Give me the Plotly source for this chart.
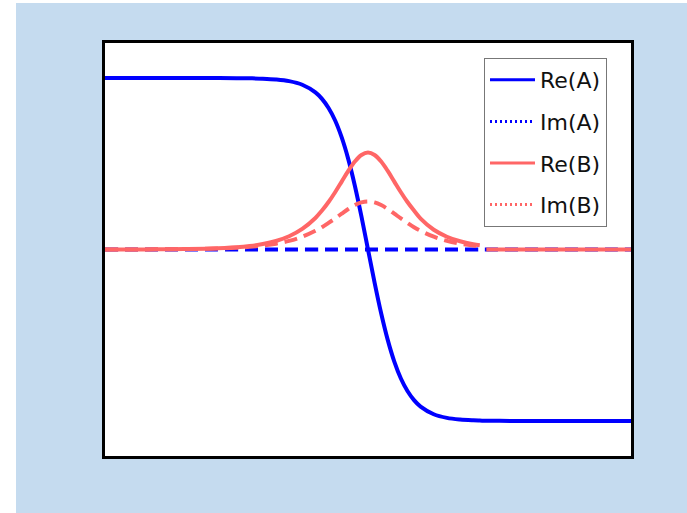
import plotly.graph_objects as go

# sample positions (x) and values
x_vals = [-10, -9, -8, -7, -6, -5, -4.5, -4, -3.5, -3, -2.5, -2, -1.75, -1.5, -1.25, -1, -0.75, -0.5, -0.25,
          0, 0.25, 0.5, 0.75, 1, 1.25, 1.5, 1.75, 2, 2.5, 3, 3.5, 4, 4.25, 4.375, 4.5, 5, 6, 7, 8, 9, 10]

re_a = [1.0, 1.0, 1.0, 1.0, 0.9998, 0.9992, 0.9982, 0.9962, 0.9916, 0.9818, 0.9605, 0.9159, 0.878, 0.8249,
        0.752, 0.6535, 0.527, 0.3718, 0.1929,
        0.0, -0.1929, -0.3718, -0.527, -0.6535, -0.752, -0.8249, -0.878, -0.9159, -0.9605, -0.9818, -0.9916,
        -0.9962, -0.9974, -0.9979, -0.9982, -0.9992, -0.9998, -1.0, -1.0, -1.0, -1.0]

im_a = [0.0] * len(x_vals)

re_b = [0.0002, 0.0004, 0.0009, 0.0022, 0.0053, 0.013, 0.0203, 0.0318, 0.0496, 0.0772, 0.12, 0.184, 0.227,
        0.277, 0.334, 0.396, 0.458, 0.513, 0.551,
        0.565, 0.551, 0.513, 0.458, 0.396, 0.334, 0.277, 0.227, 0.18, 0.115, 0.0745, 0.048, 0.031, 0.0254,
        None, 0.0, 0.0, 0.0, 0.0, 0.0, 0.0, 0.0]

im_b = [0.0002, 0.0004, 0.0009, 0.0021, 0.0046, 0.0103, 0.0153, 0.0228, 0.0339, 0.0504, 0.0744, 0.109, 0.13,
        0.155, 0.181, 0.209, 0.236, 0.259, 0.2745,
        0.28, 0.2745, 0.259, 0.236, 0.209, 0.181, 0.155, 0.13, 0.109, 0.0744, 0.0504, 0.0339, 0.0228, 0.0187,
        None, None, None, None, None, None, None, None]

names = ["Re(A)", "Im(A)", "Re(B)", "Im(B)"]
series = [re_a, im_a, re_b, im_b]
colors = ["#0000ff", "#0000ff", "#ff6666", "#ff6666"]
plot_dash = ["solid", "13px,7px", "solid", "13px,7px"]
legend_dash = ["solid", "2px,3px", "solid", "2px,3px"]

fig = go.Figure()
for nm, ys, c, d in zip(names, series, colors, plot_dash):
    fig.add_trace(go.Scatter(x=x_vals, y=ys, mode="lines", line=dict(color=c, width=4, dash=d, shape="spline"),
                             showlegend=False, hoverinfo="skip"))
for i, (nm, c, d) in enumerate(zip(names, colors, legend_dash)):
    fig.add_trace(go.Scatter(x=[None], y=[None], mode="lines", name=nm, legendgroup=f"g{i}",
                             line=dict(color=c, width=3, dash=d)))

W, H = 687, 513
L, R, T, B = 105, 56, 43, 57
pw, ph = W - L - R, H - T - B

def px2paper_x(px):
    return (px - L) / pw

def py2paper_y(py):
    return (H - B - py) / ph

# white strips on the left and top edges of the page
fig.add_shape(type="rect", xref="paper", yref="paper",
              x0=px2paper_x(-10), x1=px2paper_x(16), y0=py2paper_y(530), y1=py2paper_y(-10),
              fillcolor="white", line=dict(width=0))
fig.add_shape(type="rect", xref="paper", yref="paper",
              x0=px2paper_x(-10), x1=px2paper_x(700), y0=py2paper_y(3), y1=py2paper_y(-10),
              fillcolor="white", line=dict(width=0))

fig.update_layout(
    width=W, height=H,
    margin=dict(l=L, r=R, t=T, b=B),
    paper_bgcolor="#c5dbef", plot_bgcolor="white",
    xaxis=dict(range=[-10, 10], showgrid=False, zeroline=False, showticklabels=False, ticks="",
               showline=True, linecolor="black", linewidth=3, mirror=True),
    yaxis=dict(range=[-1.204, 1.204], showgrid=False, zeroline=False, showticklabels=False, ticks="",
               showline=True, linecolor="black", linewidth=3, mirror=True),
    legend=dict(x=px2paper_x(484), y=py2paper_y(58), xanchor="left", yanchor="top",
                bordercolor="#777777", borderwidth=1, bgcolor="white",
                font=dict(family="DejaVu Sans, sans-serif", size=22, color="#111111"),
                tracegroupgap=10, itemwidth=45),
    showlegend=True,
)

fig.write_html("out.html")
